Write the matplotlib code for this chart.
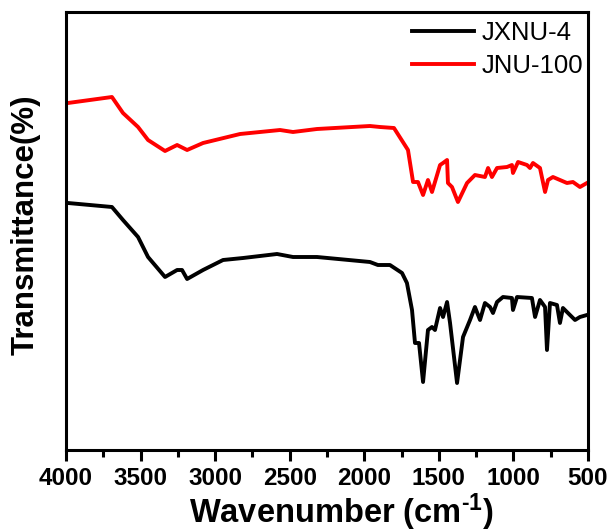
import numpy as np
import matplotlib
matplotlib.use("Agg")
import matplotlib.pyplot as plt
from matplotlib.ticker import MultipleLocator

# wavenumber (cm-1) and transmittance (arbitrary units)
jxnu4_wn = [3987, 3692, 3618, 3517, 3450, 3336, 3255, 3222, 3188, 3081,
            2947, 2813, 2585, 2478, 2317, 1962, 1909, 1828, 1747, 1714,
            1680, 1660, 1633, 1606, 1573, 1546, 1526, 1492, 1472, 1445,
            1425, 1378, 1338, 1291, 1258, 1224, 1191, 1157, 1137, 1110,
            1070, 1010, 1003, 976, 876, 855, 822, 788, 775, 755,
            708, 688, 668, 621, 587, 554, 507]
jxnu4_t = [247, 243, 230, 213, 193, 173, 180, 180, 171, 180,
           190, 192, 196, 193, 193, 188, 185, 185, 177, 167,
           140, 107, 107, 68, 120, 123, 120, 142, 133, 148,
           127, 67, 113, 130, 143, 130, 147, 143, 137, 148,
           153, 152, 140, 153, 152, 133, 150, 143, 100, 147,
           145, 127, 142, 135, 130, 133, 135]

jnu100_wn = [3987, 3692, 3618, 3517, 3450, 3336, 3255, 3188, 3081, 2833,
             2565, 2478, 2317, 1962, 1895, 1801, 1707, 1673, 1640, 1606,
             1573, 1546, 1492, 1472, 1445, 1439, 1412, 1372, 1311, 1258,
             1191, 1170, 1144, 1110, 1043, 1010, 1003, 969, 909, 889,
             869, 822, 788, 768, 735, 688, 641, 601, 554, 507]
jnu100_t = [347, 353, 337, 323, 310, 299, 305, 300, 307, 316,
            320, 318, 321, 324, 323, 322, 300, 268, 268, 255,
            270, 258, 285, 287, 290, 267, 263, 248, 267, 275,
            273, 282, 273, 282, 283, 285, 277, 288, 285, 282,
            287, 282, 258, 270, 273, 270, 267, 268, 263, 267]

plt.rcParams["font.family"] = ["Liberation Sans", "DejaVu Sans"]
plt.rcParams["font.weight"] = "bold"
plt.rcParams["mathtext.fontset"] = "custom"
plt.rcParams["mathtext.rm"] = "Liberation Sans:bold"
plt.rcParams["mathtext.bf"] = "Liberation Sans:bold"
plt.rcParams["mathtext.default"] = "bf"

fig = plt.figure(figsize=(6.11, 5.32), dpi=100)
ax = fig.add_axes([66 / 611, 82 / 532, 522 / 611, 438 / 532])

ax.plot(jxnu4_wn, jxnu4_t, color="black", lw=2.8, label="JXNU-4")
ax.plot(jnu100_wn, jnu100_t, color="#ff0000", lw=2.8, label="JNU-100")

ax.set_xlim(4000, 500)
ax.set_ylim(0, 438)
ax.set_yticks([])
ax.xaxis.set_major_locator(MultipleLocator(500))
ax.xaxis.set_minor_locator(MultipleLocator(250))
ax.tick_params(axis="x", which="major", direction="out", length=8, width=2.2,
               labelsize=17.5, pad=4)
ax.tick_params(axis="x", which="minor", direction="out", length=5, width=2.2)
for lab in ax.get_xticklabels():
    lab.set_fontweight("bold")
for sp in ax.spines.values():
    sp.set_linewidth(2.2)

ax.set_ylabel("Transmittance(%)", fontsize=22.5, fontweight="bold")
ax.yaxis.set_label_coords(-0.048, 0.514)
ax.set_xlabel(r"Wavenumber (cm$^{\text{-}1}$)", fontsize=23.5, fontweight="bold")
ax.xaxis.set_label_coords(0.527, -0.094)

leg = ax.legend(loc="upper left", bbox_to_anchor=(0.663, 0.979), frameon=False,
                fontsize=18.5, handlelength=2.4, handletextpad=0.3,
                labelspacing=0.36, borderpad=0, borderaxespad=0)
for t in leg.get_texts():
    t.set_fontweight("normal")

fig.savefig("out.png", dpi=100)
